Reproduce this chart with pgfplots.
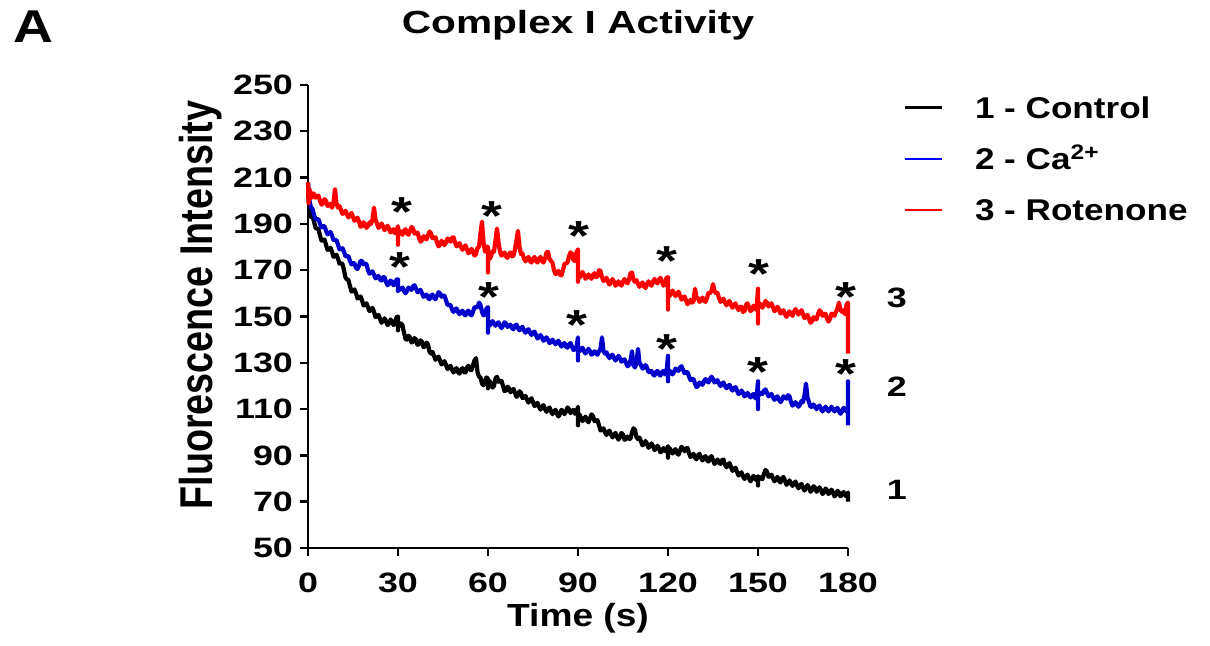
\documentclass[border=0pt]{standalone}
\usepackage{fontspec}
\usepackage{pgfplots}
\pgfplotsset{compat=1.18}
\setmainfont{Liberation Sans}
\newfontfamily\tickfont{Liberation Sans}[FakeStretch=1.28]
\newfontfamily\labfont{Liberation Sans}[FakeStretch=1.16]
\newfontfamily\ylabfont{Liberation Sans}[FakeStretch=0.82]
\newfontfamily\titfont{Liberation Sans}[FakeStretch=1.27]
\newfontfamily\legfont{Liberation Sans}[FakeStretch=1.17]
\newfontfamily\afont{Liberation Sans}[FakeStretch=1.2]
\definecolor{myblue}{RGB}{0,0,204}
\definecolor{myred}{RGB}{255,0,0}
\begin{document}
\begin{tikzpicture}
\begin{axis}[name=ax, scale only axis, width=270pt, height=231.5pt,
  xmin=0, xmax=180, ymin=50, ymax=250, enlargelimits=false,
  axis lines=left, axis line style={-, line width=1.3pt},
  xtick={0,30,...,180}, ytick={50,70,...,250},
  tick align=outside, major tick length=4pt, tick style={line width=1.2pt, black},
  /pgf/number format/assume math mode=true,
  ticklabel style={font=\tickfont\bfseries\fontsize{14}{16}\selectfont},
  xticklabel style={yshift=-5pt},
  clip=false,
  xlabel={Time (s)},
  xlabel style={font=\labfont\bfseries\fontsize{16}{19}\selectfont, at={(axis description cs:0.5,-0.1695)}, anchor=base},
  ylabel={Fluorescence Intensity},
  ylabel style={font=\ylabfont\bfseries\fontsize{23}{27}\selectfont, at={(axis description cs:-0.176,0.525)}, anchor=base},
  title={Complex I Activity},
  title style={font=\titfont\bfseries\fontsize{16}{19}\selectfont, at={(axis description cs:0.5,1)}, anchor=base, yshift=19.5pt},
  legend style={draw=none, fill=none, at={(axis description cs:1,1)}, anchor=north west, xshift=27.5pt, yshift=-6pt,
    inner sep=0pt, outer sep=0pt, row sep=14.5pt,
    font=\legfont\bfseries\fontsize{15}{17}\selectfont,
    nodes={inner sep=0pt, text height=11pt, text depth=0pt},
    /tikz/every odd column/.append style={column sep=16pt}},
  legend cell align=left,
  legend image code/.code={\draw[#1] (0pt,0pt) -- (18.5pt,0pt);},
]
\addlegendimage{black, line width=1.5pt}
\addlegendentry{1 - Control}
\addlegendimage{blue, line width=0.6pt}
\addlegendentry{2 - Ca\textsuperscript{2+}}
\addlegendimage{red, line width=0.6pt}
\addlegendentry{3 - Rotenone}

% Control
\addplot[black, line width=2.1pt, line join=round, forget plot] coordinates {
(0,204)(0.5,196)(1,193)(1.5,193.2)(2,191)(2.5,188.3)(3,188)(3.5,187.7)(4,185)(4.5,182.8)(5,183)(5.5,183.2)(6,181)(6.5,178.8)(7,179)(7.5,179.7)(8,178)(8.5,175.8)(9,176)(9.5,176.7)(10,175)(10.5,172.8)(11,173)(11.5,172.7)(12,170)(12.5,166.8)(13,166)(13.5,165.7)(14,163)(14.5,160.8)(15,161)(15.5,161.7)(16,160)(16.5,157.8)(17,158)(17.5,158.7)(18,157)(18.5,154.8)(19,155)(19.5,155.7)(20,154)(20.5,152.3)(21,153)(21.5,153.7)(22,152)(22.5,149.8)(23,150)(23.5,150.7)(24,149)(24.5,147.3)(25,148)(25.5,149.2)(26,148)(26.5,146.3)(27,147)(27.5,148.7)(28,148)(28.5,146.3)(29,147)(29.5,149.7)(30,150)(30,144)(30,147)(30.5,145.8)(31,147)(31.5,146.2)(32,143)(32.5,140.3)(33,140)(33.5,141.7)(34,141)(34.5,138.8)(35,139)(35.5,140.7)(36,140)(36.5,137.8)(37,138)(37.5,139.7)(38,139)(38.5,136.8)(39,137)(39.5,138.7)(40,138)(40.5,134.8)(41,134)(41.5,134.7)(42,133)(42.5,131.3)(43,132)(43.5,132.7)(44,131)(44.5,129.3)(45,130)(45.5,130.7)(46,129)(46.5,127.3)(47,128)(47.5,128.7)(48,127)(48.5,125.8)(49,127)(49.5,127.7)(50,126)(50.5,125.3)(51,127)(51.5,127.7)(52,126)(52.5,125.8)(53,128)(53.5,128.7)(54,127)(54.5,126.8)(55,129)(55.5,131)(56,132)(56.5,126)(57,124)(57.5,123.7)(58,121)(58.5,120.3)(59,122)(59.5,123.7)(60,123)(60,119)(60,121)(60.5,122.2)(61,121)(61.5,119.3)(62,120)(62.5,123.2)(63,124)(63.5,121.8)(64,122)(64.5,122.2)(65,120)(65.5,117.8)(66,118)(66.5,119.7)(67,119)(67.5,117.3)(68,118)(68.5,118.7)(69,117)(69.5,115.3)(70,116)(70.5,117.7)(71,117)(71.5,114.8)(72,115)(72.5,115.7)(73,114)(73.5,112.8)(74,114)(74.5,114.7)(75,113)(75.5,111.3)(76,112)(76.5,112.7)(77,111)(77.5,109.8)(78,111)(78.5,111.7)(79,110)(79.5,108.8)(80,110)(80.5,110.7)(81,109)(81.5,107.8)(82,109)(82.5,109.7)(83,108)(83.5,106.8)(84,108)(84.5,109.7)(85,109)(85.5,107.8)(86,109)(86.5,110.7)(87,110)(87.5,108.3)(88,109)(88.5,109.7)(89,108)(89.5,108.3)(90,111)(90,103)(90,107)(90.5,107.7)(91,106)(91.5,104.8)(92,106)(92.5,106.7)(93,105)(93.5,104.3)(94,106)(94.5,107.7)(95,107)(95.5,104.8)(96,105)(96.5,105.2)(97,103)(97.5,100.8)(98,101)(98.5,101.7)(99,100)(99.5,98.8)(100,100)(100.5,100.7)(101,99)(101.5,97.8)(102,99)(102.5,99.7)(103,98)(103.5,96.8)(104,98)(104.5,99.7)(105,99)(105.5,96.8)(106,97)(106.5,98.2)(107,97)(107.5,97.3)(108,100)(108.5,101.7)(109,101)(109.5,97.8)(110,97)(110.5,97.7)(111,96)(111.5,94.3)(112,95)(112.5,96.2)(113,95)(113.5,93.3)(114,94)(114.5,95.2)(115,94)(115.5,92.3)(116,93)(116.5,94.2)(117,93)(117.5,91.3)(118,92)(118.5,93.2)(119,92)(119.5,91.8)(120,94)(120,89)(120,92)(120.5,93.2)(121,92)(121.5,90.8)(122,92)(122.5,92.7)(123,91)(123.5,90.3)(124,92)(124.5,93.7)(125,93)(125.5,91.8)(126,93)(126.5,93.2)(127,91)(127.5,89.3)(128,90)(128.5,90.7)(129,89)(129.5,88.3)(130,90)(130.5,90.7)(131,89)(131.5,87.8)(132,89)(132.5,89.7)(133,88)(133.5,87.3)(134,89)(134.5,89.7)(135,88)(135.5,86.3)(136,87)(136.5,88.2)(137,87)(137.5,86.3)(138,88)(138.5,88.2)(139,86)(139.5,84.8)(140,86)(140.5,86.7)(141,85)(141.5,83.3)(142,84)(142.5,84.7)(143,83)(143.5,81.3)(144,82)(144.5,82.7)(145,81)(145.5,79.8)(146,81)(146.5,81.7)(147,80)(147.5,78.8)(148,80)(148.5,81.2)(149,80)(149.5,79.3)(150,81)(150,77)(150,79)(150.5,80.7)(151,80)(151.5,79.8)(152,82)(152.5,83.7)(153,83)(153.5,80.8)(154,81)(154.5,81.7)(155,80)(155.5,78.8)(156,80)(156.5,80.7)(157,79)(157.5,78.3)(158,80)(158.5,80.7)(159,79)(159.5,77.3)(160,78)(160.5,79.2)(161,78)(161.5,76.8)(162,78)(162.5,78.7)(163,77)(163.5,75.8)(164,77)(164.5,77.7)(165,76)(165.5,74.8)(166,76)(166.5,77.2)(167,76)(167.5,74.3)(168,75)(168.5,76.7)(169,76)(169.5,74.3)(170,75)(170.5,76.2)(171,75)(171.5,73.3)(172,74)(172.5,75.7)(173,75)(173.5,73.3)(174,74)(174.5,75.2)(175,74)(175.5,72.3)(176,73)(176.5,74.7)(177,74)(177.5,72.3)(178,73)(178.5,74.2)(179,73)(179.5,72.3)(180,74)(180,70)
};
% Ca2+
\addplot[myblue, line width=2.1pt, line join=round, forget plot] coordinates {
(0,208)(0.5,200)(1,197)(1.5,196.5)(2,194)(2.5,192)(3,192)(3.5,192)(4,190)(4.5,188.5)(5,189)(5.5,189)(6,187)(6.5,185.5)(7,186)(7.5,186.5)(8,185)(8.5,183)(9,183)(9.5,183)(10,181)(10.5,179)(11,179)(11.5,179.5)(12,178)(12.5,176)(13,176)(13.5,176)(14,174)(14.5,172.5)(15,173)(15.5,173)(16,171)(16.5,170.5)(17,172)(17.5,174)(18,174)(18.5,172.5)(19,173)(19.5,172.5)(20,170)(20.5,168.5)(21,169)(21.5,169.5)(22,168)(22.5,166.5)(23,167)(23.5,167.5)(24,166)(24.5,165.5)(25,167)(25.5,167)(26,165)(26.5,163.5)(27,164)(27.5,165.5)(28,165)(28.5,163.5)(29,164)(29.5,166)(30,166)(30,161)(30,163)(30.5,161.5)(31,162)(31.5,162.5)(32,161)(32.5,160)(33,161)(33.5,162.5)(34,162)(34.5,161.5)(35,163)(35.5,163.5)(36,162)(36.5,160.5)(37,161)(37.5,161.5)(38,160)(38.5,158.5)(39,159)(39.5,159.5)(40,158)(40.5,157.5)(41,159)(41.5,159.5)(42,158)(42.5,157.5)(43,159)(43.5,160.5)(44,160)(44.5,158.5)(45,159)(45.5,159)(46,157)(46.5,155)(47,155)(47.5,155)(48,153)(48.5,152)(49,153)(49.5,153.5)(50,152)(50.5,151)(51,152)(51.5,152.5)(52,151)(52.5,150.5)(53,152)(53.5,152.5)(54,151)(54.5,150.5)(55,152)(55.5,154)(56,154)(56.5,154)(57,156)(57.5,155)(58,152)(58.5,150.5)(59,151)(59.5,153.5)(60,154)(60,143)(60,147)(60.5,146)(61,147)(61.5,148)(62,147)(62.5,146)(63,147)(63.5,147.5)(64,146)(64.5,145)(65,146)(65.5,147.5)(66,147)(66.5,145.5)(67,146)(67.5,146.5)(68,145)(68.5,144.5)(69,146)(69.5,146.5)(70,145)(70.5,144)(71,145)(71.5,145.5)(72,144)(72.5,143)(73,144)(73.5,144.5)(74,143)(74.5,142)(75,143)(75.5,143.5)(76,142)(76.5,140.5)(77,141)(77.5,142)(78,141)(78.5,139.5)(79,140)(79.5,141)(80,140)(80.5,138.5)(81,139)(81.5,140)(82,139)(82.5,138)(83,139)(83.5,139.5)(84,138)(84.5,137)(85,138)(85.5,138.5)(86,137)(86.5,136.5)(87,138)(87.5,138.5)(88,137)(88.5,135.5)(89,136)(89.5,137)(90,141)(90,131)(90,136)(90.5,135)(91,136)(91.5,136.5)(92,135)(92.5,134)(93,135)(93.5,136)(94,135)(94.5,133.5)(95,134)(95.5,135)(96,134)(96.5,133.5)(97,135)(97.5,136)(98,141)(98.5,135)(99,134)(99.5,134.5)(100,133)(100.5,132)(101,133)(101.5,133.5)(102,132)(102.5,131)(103,132)(103.5,133)(104,132)(104.5,130.5)(105,131)(105.5,131.5)(106,130)(106.5,128.5)(107,129)(107.5,131)(108,135)(108.5,129)(109,128)(109.5,130)(110,136)(110.5,130)(111,129)(111.5,127.5)(112,128)(112.5,129)(113,128)(113.5,126)(114,126)(114.5,126.5)(115,125)(115.5,124.5)(116,126)(116.5,126.5)(117,125)(117.5,124.5)(118,126)(118.5,126.5)(119,125)(119.5,126)(120,133)(120,122)(120,125)(120.5,126.5)(121,126)(121.5,125)(122,126)(122.5,127.5)(123,127)(123.5,126.5)(124,128)(124.5,128.5)(125,127)(125.5,125.5)(126,126)(126.5,126)(127,124)(127.5,122.5)(128,123)(128.5,123)(129,121)(129.5,119.5)(130,120)(130.5,121.5)(131,121)(131.5,120.5)(132,122)(132.5,123)(133,122)(133.5,121.5)(134,123)(134.5,124)(135,123)(135.5,121.5)(136,122)(136.5,122.5)(137,121)(137.5,120)(138,121)(138.5,121.5)(139,120)(139.5,119)(140,120)(140.5,120.5)(141,119)(141.5,118)(142,119)(142.5,119.5)(143,118)(143.5,116.5)(144,117)(144.5,118)(145,117)(145.5,115.5)(146,116)(146.5,117)(147,116)(147.5,115)(148,116)(148.5,116.5)(149,115)(149.5,114.5)(150,122)(150,110)(150,115)(150.5,117)(151,117)(151.5,116.5)(152,118)(152.5,118.5)(153,117)(153.5,115.5)(154,116)(154.5,116.5)(155,115)(155.5,114)(156,115)(156.5,115.5)(157,114)(157.5,113)(158,114)(158.5,115.5)(159,115)(159.5,114.5)(160,116)(160.5,115.5)(161,113)(161.5,111.5)(162,112)(162.5,113)(163,112)(163.5,111)(164,112)(164.5,113.5)(165,113)(165.5,116)(166,121)(166.5,115)(167,113)(167.5,111)(168,111)(168.5,112)(169,111)(169.5,110)(170,111)(170.5,111.5)(171,110)(171.5,109)(172,110)(172.5,111)(173,110)(173.5,109)(174,110)(174.5,111)(175,110)(175.5,109)(176,110)(176.5,110.5)(177,109)(177.5,108)(178,109)(178.5,110.5)(179,110)(179.5,109)(180,110)(180,122)(180,103)
};
% Rotenone
\addplot[myred, line width=2.1pt, line join=round, forget plot] coordinates {
(0,208)(0.2,199)(0.5,205)(1,201)(1.5,203.2)(2,203)(2.5,201.3)(3,202)(3.5,202.2)(4,200)(4.5,198.3)(5,199)(5.5,200.7)(6,200)(6.5,197.8)(7,198)(7.5,198.7)(8,197)(8.5,199)(9,205)(9.5,199)(10,197)(10.5,197.7)(11,196)(11.5,194.3)(12,195)(12.5,195.7)(13,194)(13.5,192.8)(14,194)(14.5,194.7)(15,193)(15.5,191.3)(16,192)(16.5,192.7)(17,191)(17.5,188.8)(18,189)(18.5,190.7)(19,190)(19.5,188.3)(20,189)(20.5,190.7)(21,190)(21.5,192)(22,197)(22.5,192)(23,190)(23.5,188.3)(24,189)(24.5,190.2)(25,189)(25.5,187.3)(26,188)(26.5,189.2)(27,188)(27.5,186.3)(28,187)(28.5,187.7)(29,186)(29.5,186.3)(30,189)(30,181)(30,186)(30.5,187.2)(31,186)(31.5,185.3)(32,187)(32.5,187.7)(33,186)(33.5,185.3)(34,187)(34.5,188.7)(35,188)(35.5,185.8)(36,186)(36.5,186.2)(37,184)(37.5,182.3)(38,183)(38.5,184.7)(39,184)(39.5,183.3)(40,185)(40.5,186.7)(41,186)(41.5,183.8)(42,184)(42.5,184.2)(43,182)(43.5,180.3)(44,181)(44.5,182.7)(45,182)(45.5,180.8)(46,182)(46.5,183.7)(47,183)(47.5,182.3)(48,184)(48.5,184.2)(49,182)(49.5,180.3)(50,181)(50.5,181.7)(51,180)(51.5,178.8)(52,180)(52.5,180.7)(53,179)(53.5,177.3)(54,178)(54.5,179.2)(55,178)(55.5,176.3)(56,177)(56.5,179.7)(57,180)(57.5,186)(58,191)(58.5,182)(59,178)(59.5,180.2)(60,180)(60,169)(60,176)(60.5,174.8)(61,176)(61.5,178.2)(62,178)(62.5,183)(63,188)(63.5,182)(64,178)(64.5,176.3)(65,177)(65.5,177.7)(66,176)(66.5,175.3)(67,177)(67.5,177.7)(68,176)(68.5,176.3)(69,179)(69.5,183)(70,187)(70.5,180)(71,177)(71.5,177.2)(72,175)(72.5,173.8)(73,175)(73.5,175.7)(74,174)(74.5,173.3)(75,175)(75.5,175.7)(76,174)(76.5,173.3)(77,175)(77.5,175.7)(78,174)(78.5,173.3)(79,175)(79.5,177.7)(80,178)(80.5,174.8)(81,174)(81.5,173.2)(82,170)(82.5,168.3)(83,169)(83.5,169.7)(84,168)(84.5,167.8)(85,170)(85.5,172.7)(86,173)(86.5,173.3)(87,176)(87.5,177.7)(88,177)(88.5,174.3)(89,174)(89.5,177.7)(90,179)(90,165)(90,168)(90.5,166.8)(91,168)(91.5,169.2)(92,168)(92.5,166.3)(93,167)(93.5,168.2)(94,167)(94.5,166.3)(95,168)(95.5,168.7)(96,167)(96.5,167.3)(97,170)(97.5,169.7)(98,167)(98.5,165.3)(99,166)(99.5,166.7)(100,165)(100.5,163.8)(101,165)(101.5,166.2)(102,165)(102.5,163.3)(103,164)(103.5,165.2)(104,164)(104.5,163.3)(105,165)(105.5,166.2)(106,165)(106.5,164.3)(107,166)(107.5,168.7)(108,169)(108.5,165.8)(109,165)(109.5,165.7)(110,164)(110.5,162.8)(111,164)(111.5,164.7)(112,163)(112.5,162.3)(113,164)(113.5,165.2)(114,164)(114.5,163.3)(115,165)(115.5,166.2)(116,165)(116.5,164.3)(117,166)(117.5,166.7)(118,165)(118.5,163.3)(119,164)(119.5,166.7)(120,167)(120,153)(120,160)(120.5,158.8)(121,160)(121.5,161.2)(122,160)(122.5,158.8)(123,160)(123.5,160.7)(124,159)(124.5,157.3)(125,158)(125.5,158.7)(126,157)(126.5,155.3)(127,156)(127.5,157.2)(128,156)(128.5,156.5)(129,162)(129.5,158)(130,158)(130.5,156.3)(131,157)(131.5,158.2)(132,157)(132.5,156.3)(133,158)(133.5,160.2)(134,160)(134.5,161)(135,164)(135.5,161)(136,160)(136.5,160.2)(137,158)(137.5,156.3)(138,157)(138.5,157.7)(139,156)(139.5,154.8)(140,156)(140.5,156.7)(141,155)(141.5,153.8)(142,155)(142.5,155.7)(143,154)(143.5,152.8)(144,154)(144.5,154.2)(145,152)(145.5,152.3)(146,155)(146.5,155.7)(147,154)(147.5,152.3)(148,153)(148.5,154.7)(149,154)(149.5,152.8)(150,162)(150,147)(150,154)(150.5,155.7)(151,155)(151.5,153.8)(152,155)(152.5,156.7)(153,156)(153.5,154.3)(154,155)(154.5,155.7)(155,154)(155.5,152.3)(156,153)(156.5,154.2)(157,153)(157.5,151.3)(158,152)(158.5,152.7)(159,151)(159.5,149.8)(160,151)(160.5,152.2)(161,151)(161.5,150.3)(162,152)(162.5,153.2)(163,152)(163.5,150.8)(164,152)(164.5,152.7)(165,151)(165.5,149.3)(166,150)(166.5,150.7)(167,149)(167.5,147.3)(168,148)(168.5,149.7)(169,149)(169.5,148.8)(170,151)(170.5,152.7)(171,152)(171.5,150.3)(172,151)(172.5,151.2)(173,149)(173.5,147.8)(174,149)(174.5,151.2)(175,151)(175.5,150.3)(176,152)(176.5,153.5)(177,156)(177.5,152.8)(178,152)(178.5,152.7)(179,151)(179.5,155)(180,156)(180,134)
};
% asterisks
\addplot[draw=none, forget plot, nodes near coords={*},
  nodes near coords style={anchor=north, inner sep=0pt, font=\tickfont\bfseries\fontsize{21}{23}\selectfont}]
  coordinates {(31.2,201.4)(61.2,200)(90.4,191.3)(119.8,180.5)(150.4,174.7)(179.3,165)
               (30.7,177.7)(60.4,164.7)(89.8,152.7)(119.8,142.4)(150.1,132.3)(179.3,131.6)};
\node[font=\tickfont\bfseries\fontsize{14}{16}\selectfont] at (axis cs:196.3,158) {3};
\node[font=\tickfont\bfseries\fontsize{14}{16}\selectfont] at (axis cs:196.3,119.5) {2};
\node[font=\tickfont\bfseries\fontsize{14}{16}\selectfont] at (axis cs:196.3,75) {1};
\end{axis}
\node[anchor=base west, inner sep=0pt, font=\afont\bfseries\fontsize{23}{27}\selectfont] at ([shift={(-147.5pt,21pt)}]ax.north west) {A};
\pgfresetboundingbox
\path ([shift={(-154pt,-49pt)}]ax.south west) rectangle ([shift={(181pt,42.5pt)}]ax.north east);
\end{tikzpicture}
\end{document}
